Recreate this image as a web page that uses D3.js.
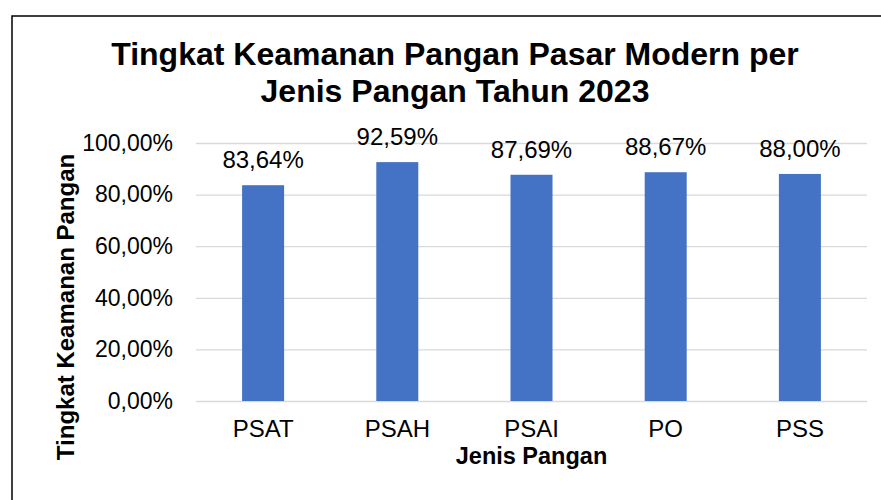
<!DOCTYPE html>
<html>
<head>
<meta charset="utf-8">
<script src="https://cdn.jsdelivr.net/npm/d3@7"></script>
<style>
  body { margin: 0; background: #fff; }
  svg { display: block; font-family: 'Liberation Sans', Arial, sans-serif; }
</style>
</head>
<body>
<svg id="chart" width="881" height="500"></svg>
<script>
// Données du graphique
var categories = ['PSAT', 'PSAH', 'PSAI', 'PO', 'PSS']
var values = [83.64, 92.59, 87.69, 88.67, 88.00]
var yTicks = [0, 20, 40, 60, 80, 100]

var titleLines = ['Tingkat Keamanan Pangan Pasar Modern per', 'Jenis Pangan Tahun 2023']
var xTitle = 'Jenis Pangan'
var yTitle = 'Tingkat Keamanan Pangan'

// Dimensions
var width = 881
var height = 500
var margin = { top: 143, right: 14, bottom: 99, left: 196 }
var graphWidth = width - margin.left - margin.right
var graphHeight = height - margin.top - margin.bottom

function formatPct (v) {
  return v.toFixed(2).replace('.', ',') + '%'
}

var svg = d3.select('#chart')

// Cadre
svg.append('rect')
  .attr('x', 12)
  .attr('y', 16)
  .attr('width', 900)
  .attr('height', 600)
  .attr('fill', 'none')
  .attr('stroke', '#000')
  .attr('stroke-width', 1.5)

var xScale = d3.scaleBand()
  .domain(categories)
  .range([0, graphWidth])
  .paddingInner(0.687)
  .paddingOuter(0.3435)

var yScale = d3.scaleLinear()
  .domain([0, 100])
  .range([graphHeight, 0])

var graph = svg.append('g')
  .attr('transform', 'translate(' + margin.left + ',' + margin.top + ')')

// Axe des ordonnées avec lignes de grille
var yAxis = graph.append('g')
  .call(d3.axisLeft(yScale).tickValues(yTicks).tickSize(-graphWidth).tickPadding(23).tickFormat(formatPct))
yAxis.select('.domain').remove()
yAxis.selectAll('line').attr('stroke', '#d9d9d9').attr('stroke-width', 1.3)
yAxis.selectAll('text')
  .attr('font-size', 23)
  .attr('font-family', null)
  .attr('fill', '#000')

// Barres
graph.selectAll('.bar')
  .data(values)
  .enter()
  .append('rect')
  .attr('class', 'bar')
  .attr('x', function (d, i) { return xScale(categories[i]) })
  .attr('y', function (d) { return yScale(d) })
  .attr('width', xScale.bandwidth())
  .attr('height', function (d) { return graphHeight - yScale(d) })
  .attr('fill', '#4472c4')

// Étiquettes des valeurs
graph.selectAll('.label')
  .data(values)
  .enter()
  .append('text')
  .attr('class', 'label')
  .attr('x', function (d, i) { return xScale(categories[i]) + xScale.bandwidth() / 2 })
  .attr('y', function (d) { return yScale(d) - 17 })
  .attr('text-anchor', 'middle')
  .attr('font-size', 24)
  .text(function (d) { return formatPct(d) })

// Axe des abscisses
var xAxis = graph.append('g')
  .attr('transform', 'translate(0,' + graphHeight + ')')
  .call(d3.axisBottom(xScale).tickSize(0).tickPadding(19))
xAxis.select('.domain').remove()
xAxis.selectAll('text')
  .attr('font-size', 24)
  .attr('font-family', null)
  .attr('fill', '#000')
  .attr('dy', '0.71em')

// Titres
svg.append('text')
  .attr('text-anchor', 'middle')
  .attr('font-size', 32)
  .attr('font-weight', 'bold')
  .selectAll('tspan')
  .data(titleLines)
  .enter()
  .append('tspan')
  .attr('x', 455)
  .attr('y', function (d, i) { return 65 + i * 37 })
  .text(function (d) { return d })

svg.append('text')
  .attr('x', margin.left + graphWidth / 2)
  .attr('y', 464)
  .attr('text-anchor', 'middle')
  .attr('font-size', 23.5)
  .attr('font-weight', 'bold')
  .text(xTitle)

svg.append('text')
  .attr('transform', 'translate(74,307) rotate(-90)')
  .attr('text-anchor', 'middle')
  .attr('font-size', 24)
  .attr('font-weight', 'bold')
  .text(yTitle)
</script>
</body>
</html>
